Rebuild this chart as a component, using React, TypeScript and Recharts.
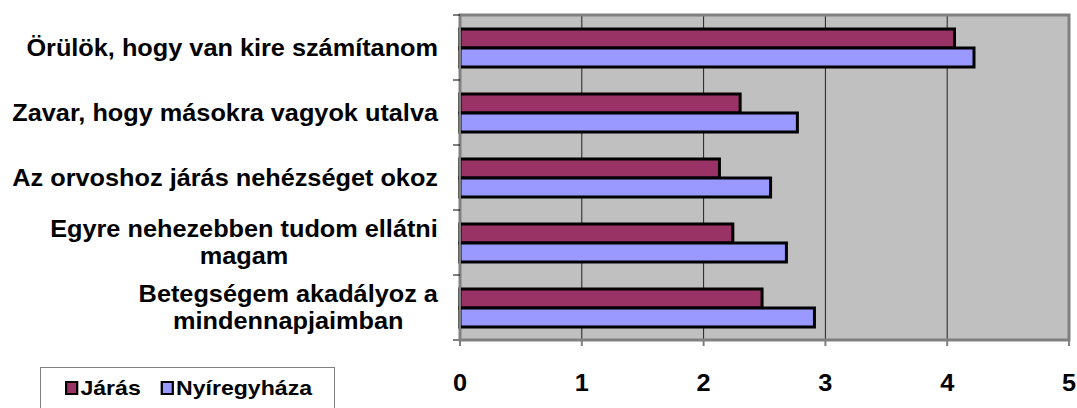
import {
  BarChart,
  Bar,
  XAxis,
  YAxis,
  CartesianGrid,
  ReferenceArea,
} from "recharts";

// kategóriák (fentről lefelé)
const categories = [
  "Örülök, hogy van kire számítanom",
  "Zavar, hogy másokra vagyok utalva",
  "Az orvoshoz járás nehézséget okoz",
  "Egyre nehezebben tudom ellátni\nmagam",
  "Betegségem akadályoz a\nmindennapjaimban",
];
const jarasValues = [4.06, 2.3, 2.13, 2.24, 2.48];
const nyiregyhazaValues = [4.22, 2.77, 2.55, 2.68, 2.91];
const xTicks = [0, 1, 2, 3, 4, 5];

const seriesNames = ["Járás", "Nyíregyháza"];
const seriesColors = ["#993366", "#9999FF"];

const data = categories.map((name, i) => ({
  name,
  jaras: jarasValues[i],
  nyiregyhaza: nyiregyhazaValues[i],
}));

const FONT = "'Liberation Sans', Arial, sans-serif";
const SX = 1.1; // a referencia szövege vízszintesen nyújtott
const LABEL_SIZE = 23;

let ctx: CanvasRenderingContext2D | null = null;
function textWidth(s: string) {
  if (!ctx) {
    ctx = document.createElement("canvas").getContext("2d");
  }
  if (!ctx) return s.length * LABEL_SIZE * 0.55;
  ctx.font = `bold ${LABEL_SIZE}px ${FONT}`;
  return ctx.measureText(s).width;
}

function CategoryTick(props: any) {
  const { x, y, payload, index } = props;
  const lines = String(payload.value).split("\n");
  const half = 32.5;
  const axisX = x + 22;
  const maxW = Math.max(...lines.map(textWidth));
  return (
    <g>
      <line x1={axisX - 7} x2={axisX} y1={y - half} y2={y - half} stroke="#000" strokeWidth={1} />
      {index === categories.length - 1 && (
        <line x1={axisX - 7} x2={axisX} y1={y + half} y2={y + half} stroke="#808080" strokeWidth={2} />
      )}
      <g transform={`translate(${x},${y}) scale(${SX},1)`}>
        {lines.length === 1 ? (
          <text x={0} y={8} textAnchor="end" fontFamily={FONT} fontWeight="bold" fontSize={LABEL_SIZE} fill="#000">
            {lines[0]}
          </text>
        ) : (
          lines.map((ln, i) => (
            <text
              key={i}
              x={-maxW / 2}
              y={-6 + i * 28}
              textAnchor="middle"
              fontFamily={FONT}
              fontWeight="bold"
              fontSize={LABEL_SIZE}
              fill="#000"
            >
              {ln}
            </text>
          ))
        )}
      </g>
    </g>
  );
}

function ValueTick(props: any) {
  const { x, y, payload } = props;
  return (
    <g transform={`translate(${x},${y}) scale(${SX},1)`}>
      <text x={0} y={0} dy="0.71em" textAnchor="middle" fontFamily={FONT} fontWeight="bold" fontSize={23} fill="#000">
        {payload.value}
      </text>
    </g>
  );
}

export default function App() {
  return (
    <div style={{ position: "absolute", left: 0, top: 0, width: 1077, height: 408, background: "#fff" }}>
      <BarChart
        width={1077}
        height={408}
        data={data}
        layout="vertical"
        margin={{ top: 15, right: 8, bottom: 0, left: 0 }}
        barGap={0}
        barSize={19}
      >
        <CartesianGrid fill="#C0C0C0" fillOpacity={1} horizontal={false} stroke="#222" strokeWidth={1} />
        <XAxis
          type="number"
          domain={[0, 5]}
          ticks={xTicks}
          height={68}
          axisLine={{ stroke: "#808080", strokeWidth: 2 }}
          tickLine={{ stroke: "#808080", strokeWidth: 2 }}
          tickSize={6}
          tickMargin={29}
          tick={<ValueTick />}
          interval={0}
        />
        <YAxis
          type="category"
          dataKey="name"
          width={460}
          axisLine={{ stroke: "#808080", strokeWidth: 2 }}
          tickLine={false}
          tickSize={6}
          tickMargin={16}
          tick={<CategoryTick />}
          interval={0}
        />
        <ReferenceArea x1={0} x2={5} fill="none" stroke="#808080" strokeWidth={3} />
        <Bar dataKey="jaras" name={seriesNames[0]} fill={seriesColors[0]} stroke="#000" strokeWidth={3} isAnimationActive={false} />
        <Bar dataKey="nyiregyhaza" name={seriesNames[1]} fill={seriesColors[1]} stroke="#000" strokeWidth={3} isAnimationActive={false} />
      </BarChart>
      <div
        style={{
          position: "absolute",
          left: 40,
          top: 367,
          width: 295,
          height: 60,
          border: "1px solid #808080",
          boxSizing: "border-box",
          background: "#fff",
        }}
      >
        <div
          style={{
            position: "absolute",
            left: 24,
            top: 8,
            display: "flex",
            alignItems: "center",
            transform: `scaleX(${SX})`,
            transformOrigin: "left center",
            fontFamily: FONT,
            fontWeight: "bold",
            fontSize: 21,
            whiteSpace: "nowrap",
          }}
        >
          {seriesNames.map((n, i) => (
            <span key={n} style={{ display: "flex", alignItems: "center", marginRight: 18 }}>
              <span
                style={{
                  display: "inline-block",
                  width: 8,
                  height: 10,
                  background: seriesColors[i],
                  border: "2px solid #000",
                  marginRight: 2,
                }}
              />
              {n}
            </span>
          ))}
        </div>
      </div>
    </div>
  );
}
